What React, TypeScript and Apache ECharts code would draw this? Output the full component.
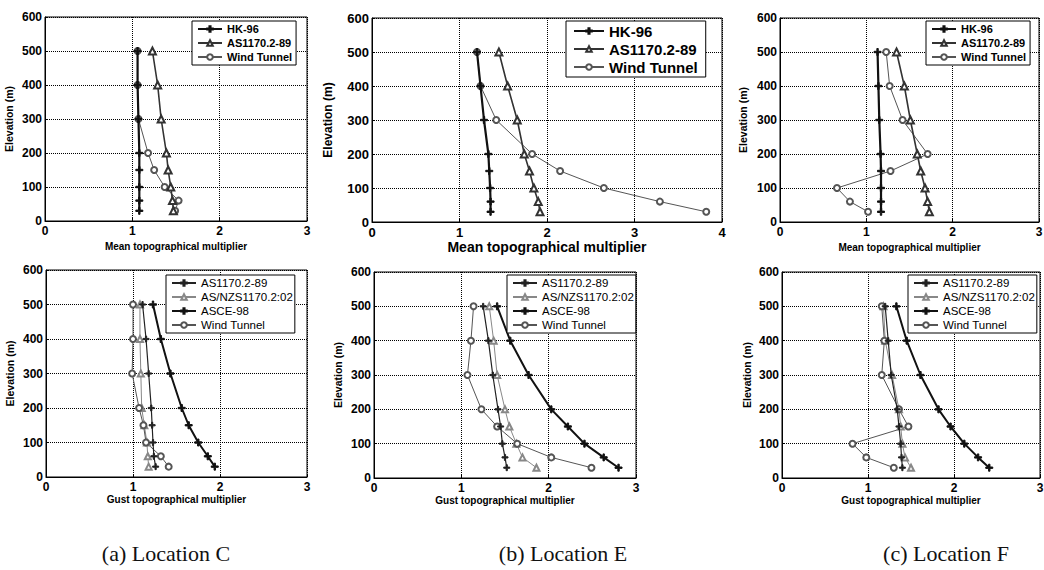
import React, { useEffect, useRef } from "react";
import * as echarts from "echarts";

const elevations = [500, 400, 300, 200, 150, 100, 60, 30];
const yTicks = [0, 100, 200, 300, 400, 500, 600];

// Mean topographical multiplier (top row)
const cMeanHK = [1.06, 1.06, 1.07, 1.08, 1.08, 1.08, 1.08, 1.08];
const cMeanAS = [1.23, 1.29, 1.33, 1.39, 1.41, 1.44, 1.46, 1.47];
const cMeanWT = [1.06, 1.06, 1.07, 1.18, 1.25, 1.37, 1.53, 1.49];

const eMeanHK = [1.2, 1.24, 1.28, 1.33, 1.34, 1.35, 1.355, 1.355];
const eMeanAS = [1.45, 1.55, 1.66, 1.74, 1.8, 1.85, 1.9, 1.92];
const eMeanWT = [1.2, 1.24, 1.42, 1.83, 2.15, 2.65, 3.29, 3.82];

const fMeanHK = [1.13, 1.14, 1.15, 1.165, 1.17, 1.17, 1.17, 1.17];
const fMeanAS = [1.35, 1.44, 1.51, 1.59, 1.63, 1.68, 1.71, 1.73];
const fMeanWT = [1.23, 1.27, 1.42, 1.71, 1.28, 0.66, 0.81, 1.02];

// Gust topographical multiplier (bottom row)
const cGustAS = [1.11, 1.15, 1.18, 1.21, 1.22, 1.23, 1.24, 1.26];
const cGustNZS = [1.08, 1.08, 1.09, 1.1, 1.13, 1.16, 1.17, 1.18];
const cGustASCE = [1.23, 1.32, 1.43, 1.56, 1.64, 1.75, 1.86, 1.94];
const cGustWT = [1.0, 1.0, 0.99, 1.07, 1.12, 1.15, 1.32, 1.41];

const eGustAS = [1.25, 1.31, 1.36, 1.42, 1.45, 1.47, 1.5, 1.52];
const eGustNZS = [1.32, 1.37, 1.41, 1.5, 1.55, 1.63, 1.7, 1.86];
const eGustASCE = [1.41, 1.56, 1.77, 2.03, 2.22, 2.41, 2.63, 2.8];
const eGustWT = [1.14, 1.11, 1.07, 1.23, 1.41, 1.64, 2.03, 2.49];

const fGustAS = [1.2, 1.235, 1.27, 1.34, 1.36, 1.38, 1.39, 1.4];
const fGustNZS = [1.18, 1.2, 1.28, 1.36, 1.38, 1.4, 1.43, 1.5];
const fGustASCE = [1.33, 1.45, 1.61, 1.82, 1.96, 2.12, 2.28, 2.41];
const fGustWT = [1.16, 1.19, 1.16, 1.36, 1.47, 0.82, 0.98, 1.3];

// internal series names; the part after "|" only keeps the styles apart
const topNames = ["HK-96", "AS1170.2-89", "Wind Tunnel"];
const bottomNames = ["AS1170.2-89|g", "AS/NZS1170.2:02", "ASCE-98", "Wind Tunnel|g"];
const captions = ["(a) Location C", "(b) Location E", "(c) Location F"];
const xNameTop = "Mean topographical multiplier";
const xNameBottom = "Gust topographical multiplier";
const yName = "Elevation (m)";

const PLUS = "path://M4,0H6V4H10V6H6V10H4V6H0V4H4Z";
const SANS = "Liberation Sans, Arial, sans-serif";

function pairs(xs: number[]) {
  return xs.map((x, i) => [x, elevations[i]]);
}

type Style = { color: string; width: number; symbol: string; size: number; z: number };
const styles: Record<string, Style> = {
  "HK-96": { color: "#111", width: 2.2, symbol: PLUS, size: 7, z: 5 },
  "AS1170.2-89": { color: "#333", width: 1.6, symbol: "emptyTriangle", size: 7, z: 4 },
  "Wind Tunnel": { color: "#555", width: 1, symbol: "emptyCircle", size: 6, z: 3 },
  "AS1170.2-89|g": { color: "#222", width: 1.2, symbol: PLUS, size: 6, z: 4 },
  "AS/NZS1170.2:02": { color: "#888", width: 1, symbol: "emptyTriangle", size: 6, z: 3 },
  "ASCE-98": { color: "#111", width: 2, symbol: PLUS, size: 7, z: 5 },
  "Wind Tunnel|g": { color: "#555", width: 1, symbol: "emptyCircle", size: 6, z: 3 },
};

function series(name: string, xs: number[], idx: number) {
  const s = styles[name];
  return {
    type: "line",
    name,
    xAxisIndex: idx,
    yAxisIndex: idx,
    data: pairs(xs),
    symbol: s.symbol,
    symbolSize: s.size,
    showSymbol: true,
    lineStyle: { color: s.color, width: s.width, type: "solid" },
    itemStyle: { color: s.color, borderColor: s.color, borderWidth: 1 },
    z: s.z,
    silent: true,
  };
}

const grids = [
  { left: 45, top: 17, width: 262, height: 204 },
  { left: 372, top: 18, width: 350, height: 204 },
  { left: 780, top: 18, width: 259, height: 204 },
  { left: 46, top: 270, width: 261, height: 207 },
  { left: 374, top: 272, width: 262, height: 206 },
  { left: 782, top: 272, width: 258, height: 206 },
];
const xMax = [3, 4, 3, 3, 3, 3];
const yNameGap = [31, 38, 32, 31, 31, 30];

export default function App() {
  const ref = useRef<HTMLDivElement>(null);
  useEffect(() => {
    if (!ref.current) return;
    const chart = echarts.init(ref.current, undefined, { renderer: "svg" });
    const big = (i: number) => i === 1;
    const option: any = {
      animation: false,
      backgroundColor: "#fff",
      grid: grids.map((g) => ({
        ...g,
        show: true,
        borderColor: "#000",
        borderWidth: 1,
        backgroundColor: "transparent",
        containLabel: false,
        outerBoundsMode: "none",
      })),
      xAxis: grids.map((_, i) => ({
        type: "value",
        gridIndex: i,
        min: 0,
        max: xMax[i],
        interval: 1,
        name: i < 3 ? xNameTop : xNameBottom,
        nameLocation: "middle",
        nameGap: big(i) ? 18 : i < 3 ? 20 : 17,
        nameTextStyle: {
          fontFamily: SANS,
          fontWeight: "bold",
          fontSize: big(i) ? 14 : 10,
          color: "#000",
        },
        axisLine: { show: true, lineStyle: { color: "#000", width: 1 } },
        axisTick: { show: true, inside: true, length: 3, lineStyle: { color: "#000" } },
        axisLabel: {
          fontFamily: SANS,
          fontWeight: "bold",
          fontSize: big(i) ? 13 : 12,
          color: "#000",
          margin: 4,
        },
        splitLine: { show: true, lineStyle: { color: "#000", type: "dotted", width: 1 } },
      })),
      yAxis: grids.map((_, i) => ({
        type: "value",
        gridIndex: i,
        min: 0,
        max: 600,
        interval: 100,
        name: yName,
        nameLocation: "middle",
        nameRotate: 90,
        nameGap: yNameGap[i],
        nameTextStyle: {
          fontFamily: SANS,
          fontWeight: "bold",
          fontSize: big(i) ? 12 : 10.5,
          color: "#000",
        },
        axisLine: { show: true, lineStyle: { color: "#000", width: 1 } },
        axisTick: { show: true, inside: true, length: 3, lineStyle: { color: "#000" } },
        axisLabel: {
          fontFamily: SANS,
          fontWeight: "bold",
          fontSize: big(i) ? 13 : 12,
          color: "#000",
          margin: 3,
          formatter: (v: number) => (yTicks.indexOf(v) >= 0 ? String(v) : ""),
        },
        splitLine: { show: true, lineStyle: { color: "#000", type: "dotted", width: 1 } },
      })),
      legend: [
        { left: 192, top: 21, data: topNames, fs: 11, bold: true, iw: 24, pad: [1, 4, 1, 5] },
        { left: 566, top: 21, data: topNames, fs: 15, bold: true, iw: 30, pad: [1, 8, 1, 7] },
        { left: 926, top: 21, data: topNames, fs: 11, bold: true, iw: 24, pad: [1, 4, 1, 5] },
        { left: 166, top: 275, data: bottomNames, fs: 11.5, bold: false, iw: 24, pad: [1, 2, 1, 5] },
        { left: 507, top: 275, data: bottomNames, fs: 11.5, bold: false, iw: 24, pad: [1, 2, 1, 5] },
        { left: 908, top: 275, data: bottomNames, fs: 11.5, bold: false, iw: 24, pad: [1, 2, 1, 5] },
      ].map((l) => ({
        orient: "vertical",
        left: l.left,
        top: l.top,
        data: l.data,
        formatter: (n: string) => n.split("|")[0],
        selectedMode: false,
        itemWidth: l.iw,
        itemHeight: 7,
        itemGap: 0,
        padding: l.pad,
        borderColor: "#000",
        borderWidth: 1,
        backgroundColor: "#fff",
        borderRadius: 0,
        z: 10,
        textStyle: {
          fontFamily: SANS,
          fontSize: l.fs,
          fontWeight: l.bold ? "bold" : "normal",
          color: "#000",
          lineHeight: l.data.length === 4 ? 14 : l.fs + 3,
        },
      })),
      series: [
        series("Wind Tunnel", cMeanWT, 0),
        series("AS1170.2-89", cMeanAS, 0),
        series("HK-96", cMeanHK, 0),
        series("Wind Tunnel", eMeanWT, 1),
        series("AS1170.2-89", eMeanAS, 1),
        series("HK-96", eMeanHK, 1),
        series("Wind Tunnel", fMeanWT, 2),
        series("AS1170.2-89", fMeanAS, 2),
        series("HK-96", fMeanHK, 2),
        series("AS1170.2-89|g", cGustAS, 3),
        series("AS/NZS1170.2:02", cGustNZS, 3),
        series("ASCE-98", cGustASCE, 3),
        series("Wind Tunnel|g", cGustWT, 3),
        series("AS1170.2-89|g", eGustAS, 4),
        series("AS/NZS1170.2:02", eGustNZS, 4),
        series("ASCE-98", eGustASCE, 4),
        series("Wind Tunnel|g", eGustWT, 4),
        series("AS1170.2-89|g", fGustAS, 5),
        series("AS/NZS1170.2:02", fGustNZS, 5),
        series("ASCE-98", fGustASCE, 5),
        series("Wind Tunnel|g", fGustWT, 5),
      ],
      graphic: captions.map((c, i) => ({
        type: "text",
        x: [166, 563, 946][i],
        y: 553,
        style: {
          text: c,
          fill: "#111",
          font: '22px "Liberation Serif", "Times New Roman", serif',
          textAlign: "center",
          textVerticalAlign: "middle",
          align: "center",
          verticalAlign: "middle",
        },
      })),
    };
    chart.setOption(option);
    return () => chart.dispose();
  }, []);
  return (
    <div
      ref={ref}
      style={{ position: "absolute", left: 0, top: 0, width: 1044, height: 570, background: "#fff" }}
    />
  );
}
